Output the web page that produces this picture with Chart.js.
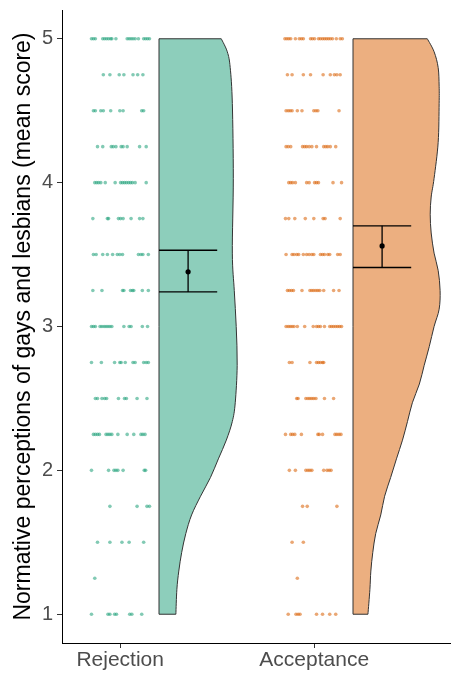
<!DOCTYPE html>
<html><head><meta charset="utf-8">
<script src="https://cdn.jsdelivr.net/npm/chart.js@4.4.1/dist/chart.umd.min.js"></script>
<style>html,body{margin:0;padding:0;background:#fff}#wrap{width:454px;height:675px}</style>
</head><body><div id="wrap"><canvas id="c" width="454" height="675"></canvas></div>
<script>
// ---------- data ----------
const categories = ['Rejection', 'Acceptance'];
const yTicks = [1, 2, 3, 4, 5];
const scoreLevels = [5, 4.75, 4.5, 4.25, 4, 3.75, 3.5, 3.25, 3, 2.75, 2.5, 2.25, 2, 1.75, 1.5, 1.25, 1];

// horizontal jitter of each observation (offset from category centre), one list per score level
const rejectionJitter = [
  [-0.148,-0.138,-0.128,-0.090,-0.080,-0.070,-0.060,-0.049,-0.043,-0.022,0.036,0.046,0.056,0.066,0.077,0.094,0.121,0.131,0.141,0.151],
  [-0.087,-0.053,-0.005,0.019,0.066,0.090,0.117],
  [-0.138,-0.128,-0.100,-0.087,-0.049,-0.002,0.015,0.111,0.121],
  [-0.117,-0.090,-0.046,-0.036,-0.022,0.005,0.015,0.036,0.100,0.134],
  [-0.131,-0.121,-0.111,-0.100,-0.077,-0.026,0.002,0.012,0.022,0.032,0.043,0.053,0.063,0.077,0.134],
  [-0.141,-0.066,-0.060,-0.009,0.002,0.015,0.056,0.100,0.117],
  [-0.138,-0.124,-0.090,-0.066,-0.039,-0.015,-0.002,0.012,0.094,0.107,0.117,0.145],
  [-0.141,-0.094,0.012,0.019,0.053,0.063,0.070,0.114,0.145],
  [-0.148,-0.138,-0.128,-0.104,-0.094,-0.083,-0.073,-0.063,-0.053,-0.043,0.019,0.046,0.056,0.114,0.141],
  [-0.148,-0.097,-0.029,-0.002,0.005,0.026,0.066,0.077,0.121,0.134,0.145],
  [-0.128,-0.117,-0.094,-0.080,-0.070,-0.009,0.022,0.032,0.087,0.138],
  [-0.138,-0.128,-0.117,-0.107,-0.073,-0.063,-0.053,-0.043,-0.012,0.036,0.070,0.107,0.117,0.128],
  [-0.148,-0.060,-0.032,-0.022,-0.012,0.015,0.124,0.131],
  [-0.053,0.087,0.138,0.151],
  [-0.117,-0.053,0.009,0.046,0.121],
  [-0.131],
  [-0.148,-0.063,-0.053,-0.029,-0.019,0.049,0.060,0.111]
];
const acceptanceJitter = [
  [-0.151,-0.141,-0.131,-0.121,-0.097,-0.077,-0.066,-0.056,-0.019,-0.009,0.002,0.022,0.032,0.043,0.053,0.063,0.073,0.083,0.094,0.114,0.134,0.145],
  [-0.138,-0.114,-0.056,-0.019,0.046,0.083,0.104,0.117,0.134],
  [-0.145,-0.134,-0.124,-0.114,-0.087,-0.063,-0.002,0.009,0.019,0.128],
  [-0.145,-0.134,-0.121,-0.060,-0.049,-0.039,-0.026,-0.012,0.012,0.049,0.060,0.070,0.083,0.111],
  [-0.131,-0.121,-0.111,-0.097,-0.039,-0.026,0.002,0.012,0.022,0.097,0.141],
  [-0.148,-0.131,-0.100,-0.046,-0.002,0.046,0.056,0.134],
  [-0.145,-0.114,-0.104,-0.090,-0.080,-0.056,-0.039,-0.026,-0.012,-0.002,0.032,0.043,0.053,0.070,0.080,0.121,0.134],
  [-0.138,-0.128,-0.117,-0.107,-0.063,-0.022,-0.012,-0.002,0.009,0.019,0.029,0.049,0.100,0.128],
  [-0.145,-0.134,-0.124,-0.114,-0.104,-0.087,-0.049,-0.005,0.012,0.022,0.032,0.053,0.080,0.090,0.100,0.111,0.121,0.131,0.141],
  [-0.128,-0.114,-0.022,0.012,0.022,0.032,0.043,0.049],
  [-0.090,-0.083,-0.043,-0.032,-0.022,-0.012,-0.002,0.009,0.053,0.100],
  [-0.148,-0.121,-0.111,-0.100,-0.066,0.019,0.026,0.043,0.107,0.117,0.128,0.138],
  [-0.128,-0.097,-0.043,-0.032,-0.022,-0.012,0.049,0.066,0.077,0.087],
  [-0.060,-0.036,0.117],
  [-0.114,-0.056],
  [-0.087],
  [-0.134,-0.094,-0.083,-0.073,0.012,0.043,0.080,0.111]
];

// means and confidence limits
const means  = [3.38, 3.56];
const lowers = [3.24, 3.41];
const uppers = [3.53, 3.70];

// half-violin density outline (score, half width in category units)
const rejectionDensityY = [5.0,4.91,4.80,4.55,4.03,3.51,3.25,3.0,2.73,2.47,2.34,2.21,2.08,1.95,1.82,1.69,1.56,1.43,1.30,1.17,1.0];
const rejectionDensityW = [0.321,0.352,0.367,0.378,0.383,0.378,0.388,0.398,0.403,0.393,0.378,0.347,0.306,0.265,0.214,0.168,0.138,0.117,0.102,0.092,0.087];
const acceptanceDensityY = [5.0,4.91,4.80,4.67,4.55,4.28,4.03,3.90,3.78,3.65,3.51,3.39,3.25,3.12,3.0,2.86,2.73,2.60,2.47,2.34,2.21,2.08,1.95,1.82,1.69,1.56,1.43,1.30,1.17,1.0];
const acceptanceDensityW = [0.383,0.418,0.439,0.444,0.444,0.439,0.418,0.403,0.398,0.403,0.418,0.439,0.449,0.444,0.418,0.393,0.367,0.342,0.306,0.281,0.255,0.224,0.194,0.163,0.143,0.117,0.102,0.092,0.087,0.077];

// ---------- layout / style ----------
const groupX = [1, 2];
const VIOLIN_GAP = 0.2, BAR_CENTER = 0.35, BAR_HALF = 0.15;
const violinFill = ['rgba(27,158,119,0.5)', 'rgba(217,95,2,0.5)'];
const pointFill = ['rgba(27,158,119,0.55)', 'rgba(217,95,2,0.55)'];
const FONT = "'Liberation Sans', Arial, sans-serif";

function jitterPoints(g, jitter) {
  const pts = [];
  scoreLevels.forEach((lv, i) => jitter[i].forEach(o => pts.push({x: groupX[g] + o, y: lv})));
  return pts;
}

const datasets = [
  {type: 'scatter', data: jitterPoints(0, rejectionJitter), backgroundColor: pointFill[0], borderWidth: 0, pointRadius: 1.8},
  {type: 'scatter', data: jitterPoints(1, acceptanceJitter), backgroundColor: pointFill[1], borderWidth: 0, pointRadius: 1.8}
];
groupX.forEach((gx, g) => {
  const c = gx + BAR_CENTER;
  const line = d => ({type: 'scatter', showLine: true, data: d, borderColor: '#000', borderWidth: 1.3, pointRadius: 0, fill: false});
  datasets.push(line([{x: c - BAR_HALF, y: uppers[g]}, {x: c + BAR_HALF, y: uppers[g]}]));
  datasets.push(line([{x: c - BAR_HALF, y: lowers[g]}, {x: c + BAR_HALF, y: lowers[g]}]));
  datasets.push(line([{x: c, y: lowers[g]}, {x: c, y: uppers[g]}]));
  datasets.push({type: 'scatter', data: [{x: c, y: means[g]}], backgroundColor: '#000', borderWidth: 0, pointRadius: 2.6});
});

const violinPlugin = {
  id: 'halfViolin',
  beforeDatasetsDraw(chart) {
    const {ctx, scales: {x, y}} = chart;
    [[rejectionDensityY, rejectionDensityW], [acceptanceDensityY, acceptanceDensityW]].forEach(([ys, ws], g) => {
      const base = groupX[g] + VIOLIN_GAP;
      const bx = x.getPixelForValue(base);
      const pts = ys.map((v, i) => ({px: x.getPixelForValue(base + ws[i]), py: y.getPixelForValue(v)}));
      ctx.save();
      ctx.beginPath();
      ctx.moveTo(bx, pts[0].py);
      ctx.lineTo(pts[0].px, pts[0].py);
      for (let i = 0; i < pts.length - 1; i++) {
        const p0 = pts[Math.max(i - 1, 0)], p1 = pts[i], p2 = pts[i + 1], p3 = pts[Math.min(i + 2, pts.length - 1)];
        ctx.bezierCurveTo(p1.px + (p2.px - p0.px) / 6, p1.py + (p2.py - p0.py) / 6,
                          p2.px - (p3.px - p1.px) / 6, p2.py - (p3.py - p1.py) / 6, p2.px, p2.py);
      }
      ctx.lineTo(bx, pts[pts.length - 1].py);
      ctx.closePath();
      ctx.fillStyle = violinFill[g];
      ctx.fill();
      ctx.strokeStyle = '#333';
      ctx.lineWidth = 1;
      ctx.stroke();
      ctx.restore();
    });
  }
};

new Chart(document.getElementById('c'), {
  type: 'scatter',
  data: {datasets},
  plugins: [violinPlugin],
  options: {
    responsive: false,
    animation: false,
    devicePixelRatio: 1,
    layout: {padding: {top: 10, right: 0, bottom: 0, left: 0}},
    plugins: {legend: {display: false}, tooltip: {enabled: false}},
    scales: {
      x: {
        type: 'linear', min: 0.7, max: 2.7,
        afterBuildTicks: s => { s.ticks = groupX.map(v => ({value: v})); },
        ticks: {callback: v => categories[groupX.indexOf(v)] ?? '', color: '#4d4d4d',
                font: {family: FONT, size: 21}, padding: 0, maxRotation: 0, autoSkip: false},
        grid: {display: true, drawOnChartArea: false, drawTicks: true, tickLength: 5, color: '#333'},
        border: {display: true, color: '#000', width: 1},
        afterFit: s => { s.height = 32; s.paddingLeft = 0; s.paddingRight = 0; }
      },
      y: {
        min: 0.8, max: 5.2,
        afterBuildTicks: s => { s.ticks = yTicks.map(v => ({value: v})); },
        ticks: {callback: v => String(v), color: '#4d4d4d', font: {family: FONT, size: 20}, padding: 4},
        grid: {display: true, drawOnChartArea: false, drawTicks: true, tickLength: 5, color: '#333'},
        border: {display: true, color: '#000', width: 1},
        title: {display: true, text: 'Normative perceptions of gays and lesbians (mean score)', color: '#000',
                font: {family: FONT, size: 23}, padding: {top: 10, bottom: 0}},
        afterFit: s => { s.width = 62; s.paddingTop = 0; s.paddingBottom = 0; }
      }
    }
  }
});
</script>
</body></html>
